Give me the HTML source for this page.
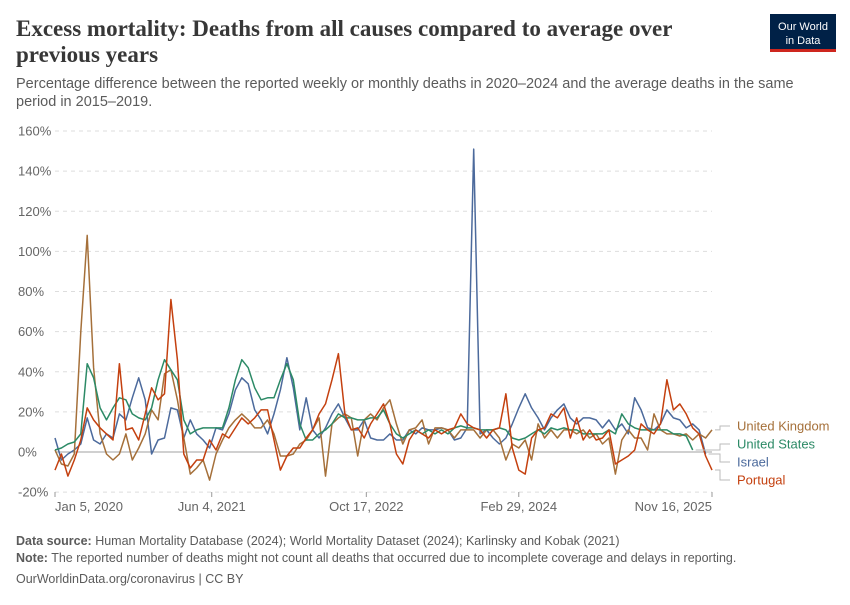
<!DOCTYPE html>
<html><head><meta charset="utf-8"><style>
body{margin:0;background:#fff;width:850px;height:600px;overflow:hidden;font-family:"Liberation Sans",sans-serif}
</style></head><body>
<svg width="850" height="600" xmlns="http://www.w3.org/2000/svg">
<text x="16" y="36" font-family="Liberation Serif,serif" font-size="23" font-weight="bold" fill="#373737">Excess mortality: Deaths from all causes compared to average over</text>
<text x="16" y="62" font-family="Liberation Serif,serif" font-size="23" font-weight="bold" fill="#373737">previous years</text>
<text x="16" y="88" font-size="14.5" fill="#5b5b5b">Percentage difference between the reported weekly or monthly deaths in 2020–2024 and the average deaths in the same</text>
<text x="16" y="106" font-size="14.5" fill="#5b5b5b">period in 2015–2019.</text>
<g><rect x="770" y="14" width="66" height="38" fill="#002147"/><rect x="770" y="49" width="66" height="3" fill="#ce261e"/>
<text x="803" y="30" font-size="11" fill="#fff" text-anchor="middle">Our World</text><text x="803" y="44" font-size="11" fill="#fff" text-anchor="middle">in Data</text></g>
<g id="grid"></g>
<g id="series"></g>
<g id="legend"></g>
<text x="16" y="545" font-size="12.5" fill="#5b5b5b"><tspan font-weight="bold">Data source:</tspan> Human Mortality Database (2024); World Mortality Dataset (2024); Karlinsky and Kobak (2021)</text>
<text x="16" y="562" font-size="12.5" fill="#5b5b5b"><tspan font-weight="bold">Note:</tspan> The reported number of deaths might not count all deaths that occurred due to incomplete coverage and delays in reporting.</text>
<text x="16" y="583" font-size="12.5" fill="#5b5b5b">OurWorldinData.org/coronavirus | CC BY</text>
</svg>
<script>
const yTicks=[-20,0,20,40,60,80,100,120,140,160];
const xTickWeeks=[0,73,145,216,306];
const xTickLabels=["Jan 5, 2020","Jun 4, 2021","Oct 17, 2022","Feb 29, 2024","Nov 16, 2025"];
const seriesNames=["United Kingdom","United States","Israel","Portugal"];
const uk=[1,-6,-7,-1,60,108,42,9,-1,-4,-1,9,-4,2,9,21,16,39,41,26,7,-11,-8,-4,-14,-1,
6,12,16,19,16,12,12,16,9,-2,-2,-1,4,6,11,17,-12,14,17,19,17,-2,16,19,16,
22,26,14,4,11,12,16,4,12,12,11,7,11,11,11,7,11,11,7,-4,4,2,6,-4,14,7,
11,7,11,11,9,11,7,9,4,7,-11,6,11,7,7,1,19,11,9,9,8,9,6,9,7,11];
const us=[1,2,4,5,9,44,37,22,16,22,27,26,19,17,16,22,36,46,41,36,16,9,11,12,12,12,
12,22,36,46,42,32,26,27,27,36,44,36,14,6,6,9,11,14,19,17,17,16,16,17,17,
21,14,9,7,9,11,9,11,9,11,9,12,13,12,12,11,11,11,12,11,7,6,7,9,11,9,
12,11,12,11,11,9,9,9,9,11,9,19,14,12,11,11,11,11,11,9,9,8,1];
const israel=[7,-4,-1,1,4,17,6,4,9,7,19,16,27,37,26,-1,6,7,22,21,7,16,9,6,2,12,
11,19,31,37,34,21,16,9,19,31,47,32,11,27,11,7,12,19,24,17,11,11,16,7,6,
6,9,6,6,11,9,12,11,11,12,11,6,7,12,151,9,11,7,4,7,14,22,29,22,17,11,
17,21,24,17,14,17,17,16,12,16,11,14,9,27,21,12,11,14,21,17,16,12,14,11,-1];
const portugal=[-9,-1,-12,-4,6,22,16,12,9,6,44,11,12,6,19,32,26,29,76,46,-1,-8,-4,-4,6,1,
9,7,12,17,14,17,21,21,6,-9,-2,2,2,7,11,19,24,36,49,19,11,12,7,14,19,
24,14,-1,-6,6,11,9,7,11,9,11,12,19,14,12,11,7,11,12,29,2,-9,-11,7,11,12,
19,17,22,7,17,6,11,6,7,11,-6,-4,-2,1,14,11,9,14,36,21,24,19,12,9,-2,-9];
const WEEK_STEP=3;
const NS="http://www.w3.org/2000/svg";
const X0=55,X1=712,Y0=452,PPU=2.006,MAXW=306;
function xs(w){return X0+w*(X1-X0)/MAXW;}
function ys(v){return Y0-v*PPU;}
function mk(t,a,p){const e=document.createElementNS(NS,t);for(const k in a)e.setAttribute(k,a[k]);p.appendChild(e);return e;}
const grid=document.getElementById('grid');
yTicks.forEach(v=>{
 const l=mk('line',{x1:X0,x2:X1,y1:ys(v),y2:ys(v),stroke:v===0?'#a0a0a0':'#dddddd','stroke-width':1,'stroke-dasharray':v===0?'':'4,4'},grid);
 
 
 const t=mk('text',{x:18,y:ys(v)+4.5,'font-size':13,fill:'#666'},grid);
 t.textContent=v+'%';
 
 
});
xTickWeeks.forEach((w,i)=>{
 const tk=mk('line',{x1:xs(w),x2:xs(w),y1:492,y2:497,stroke:'#999'},grid);
 
 
 const anc=i===0?'start':(i===xTickWeeks.length-1?'end':'middle');
 const t=mk('text',{x:xs(w),y:511,'font-size':13,fill:'#666','text-anchor':anc},grid);
 t.textContent=xTickLabels[i];
 
 
});
const colors=['#a5703a','#2c8a66','#4c6a9c','#c4400f'];
const data=[uk,us,israel,portugal];
const sg=document.getElementById('series');
const order=[2,0,1,3];
order.forEach(i=>{
 const pts=data[i].map((v,k)=>xs(k*WEEK_STEP).toFixed(1)+','+ys(v).toFixed(1)).join(' ');
 const p=mk('polyline',{points:pts,fill:'none',stroke:colors[i],'stroke-width':1.5,'stroke-linejoin':'round'},sg);
 
 
});
const lg=document.getElementById('legend');
const labelY=[426,444,462,480];
seriesNames.forEach((n,i)=>{
 const arr=data[i];const last=arr[arr.length-1];const lx=xs((arr.length-1)*WEEK_STEP);
 mk('path',{d:`M${lx+3},${ys(last)} H720 V${labelY[i]} H730`,fill:'none',stroke:'#bbb','stroke-width':1},lg);
 const t=mk('text',{x:737,y:labelY[i]+4.5,'font-size':13,fill:colors[i]},lg);
 t.textContent=n;
 
 
});
</script>
</body></html>
